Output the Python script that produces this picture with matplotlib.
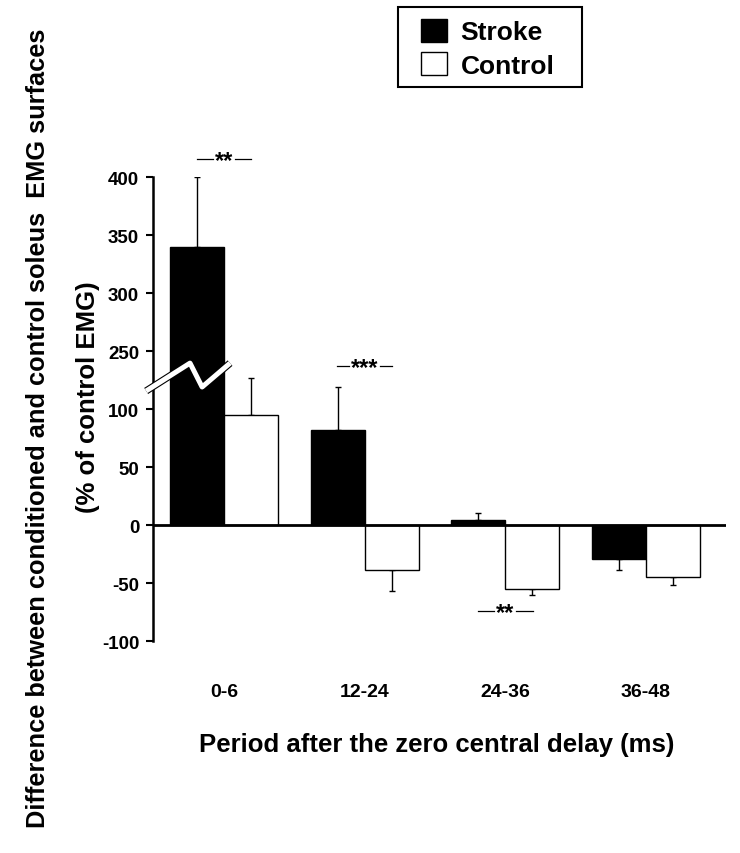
import numpy as np
import matplotlib
matplotlib.use("Agg")
import matplotlib.pyplot as plt
from matplotlib.patches import Rectangle
from matplotlib.transforms import blended_transform_factory

plt.rcParams['font.family'] = ['Liberation Sans', 'DejaVu Sans']
plt.rcParams['font.weight'] = 'bold'

periods = ["0-6", "12-24", "24-36", "36-48"]
stroke_mean = [340, 82, 4.5, -29]
stroke_err = [60, 37, 6, 10]
control_mean = [95, -39, -55, -45]
control_err = [32, 18, 5, 7]
yticks = [-100, -50, 0, 50, 100, 250, 300, 350, 400]
sig_labels = ["**", "***", "**"]
sig_groups = [0, 1, 2]


# broken axis: linear up to 130, squeezed 130-250, then shifted by 100
def fwd(v):
    v = np.asarray(v, dtype=float)
    return np.where(v <= 130, v, np.where(v < 250, 130 + (v - 130) / 6.0, v - 100))


def inv(d):
    d = np.asarray(d, dtype=float)
    return np.where(d <= 130, d, np.where(d < 150, 130 + (d - 130) * 6.0, d + 100))


fig = plt.figure(figsize=(7.4, 8.54), dpi=100)
ax = fig.add_axes([0.2068, 0.2482, 0.7743, 0.5433])
ax.set_yscale('function', functions=(fwd, inv))

x = np.arange(len(periods))
w = 0.385
s_yerr = [[0 if m >= 0 else e for m, e in zip(stroke_mean, stroke_err)],
          [e if m >= 0 else 0 for m, e in zip(stroke_mean, stroke_err)]]
c_yerr = [[0 if m >= 0 else e for m, e in zip(control_mean, control_err)],
          [e if m >= 0 else 0 for m, e in zip(control_mean, control_err)]]

ax.bar(x - w / 2, stroke_mean, w, color='black', edgecolor='black', linewidth=1,
       label="Stroke", zorder=2)
ax.bar(x + w / 2, control_mean, w, color='white', edgecolor='black', linewidth=1,
       label="Control", zorder=2)
ax.errorbar(x - w / 2, stroke_mean, yerr=s_yerr, fmt='none', ecolor='black',
            elinewidth=1, capsize=2.5, capthick=1, zorder=1)
ax.errorbar(x + w / 2, control_mean, yerr=c_yerr, fmt='none', ecolor='black',
            elinewidth=1, capsize=2.5, capthick=1, zorder=1)

ax.axhline(0, color='black', linewidth=2, zorder=3)

ax.set_xlim(-0.505, 3.57)
ax.set_ylim(-100, 400)
ax.set_yticks(yticks)
ax.set_yticklabels([str(t) for t in yticks], fontsize=13.5, fontweight='bold')
ax.yaxis.set_minor_locator(matplotlib.ticker.NullLocator())
ax.set_xticks(x)
ax.set_xticklabels(periods, fontsize=14, fontweight='bold')
ax.tick_params(axis='x', length=0, pad=30)
ax.tick_params(axis='y', direction='out', length=5, width=1.5, pad=5)
for side in ['top', 'right', 'bottom']:
    ax.spines[side].set_visible(False)
ax.spines['left'].set_linewidth(1.8)

# break symbol on the y axis
bt = blended_transform_factory(ax.transData, ax.transAxes)
zx = [-0.554, -0.242, -0.156, 0.043]
zy = [0.539, 0.599, 0.5475, 0.599]
ax.plot(zx, zy, color='black', linewidth=5.2, transform=bt, clip_on=False,
        zorder=5, solid_capstyle='butt')
ax.plot(zx, zy, color='white', linewidth=3.6, transform=bt, clip_on=False,
        zorder=6, solid_capstyle='butt')

# significance markers
sig_y = [1.039, 0.593, 0.0647]
for g, lab, yy in zip(sig_groups, sig_labels, sig_y):
    half = 0.078 if len(lab) == 2 else 0.112
    ax.plot([g - 0.195, g - half], [yy, yy], color='black', linewidth=0.9,
            transform=bt, clip_on=False)
    ax.plot([g + half, g + 0.195], [yy, yy], color='black', linewidth=0.9,
            transform=bt, clip_on=False)
    ax.text(g, yy - 0.017, lab, transform=bt, ha='center', va='baseline',
            fontsize=17, fontweight='bold')

fig.text(0.051, 0.499, "Difference between conditioned and control soleus  EMG surfaces",
         rotation=90, ha='center', va='center', fontsize=18.3, fontweight='bold')
fig.text(0.119, 0.535, "(% of control EMG)", rotation=90, ha='center', va='center',
         fontsize=18.5, fontweight='bold')
fig.text(0.590, 1 - 745 / 854, "Period after the zero central delay (ms)",
         ha='center', va='center', fontsize=18.5, fontweight='bold')

# legend: frame drawn separately for the wider side padding
fig.patches.append(Rectangle((398 / 740, 1 - 88 / 854), 184 / 740, 80 / 854,
                             transform=fig.transFigure, fill=False,
                             edgecolor='black', linewidth=1.5))
leg = fig.legend(loc='upper left', bbox_to_anchor=(421 / 740, 1 - 20 / 854),
                 fontsize=19, frameon=False, borderpad=0,
                 handlelength=1.0, handleheight=0.95, handletextpad=0.5,
                 labelspacing=0.3, borderaxespad=0)
for t in leg.get_texts():
    t.set_fontweight('bold')

fig.savefig("out.png", dpi=100)
